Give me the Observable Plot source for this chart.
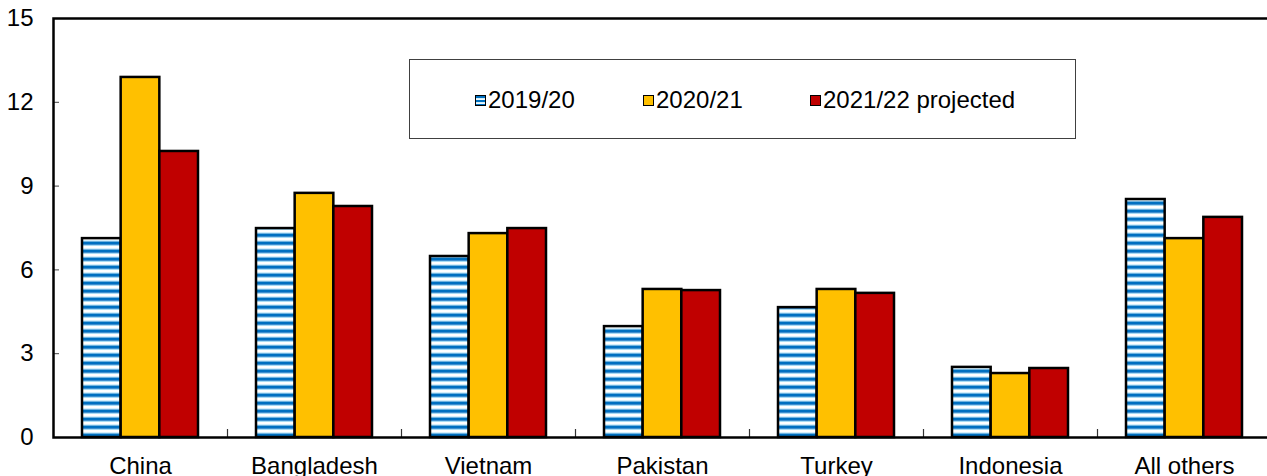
<!DOCTYPE html>
<html>
<head>
<meta charset="utf-8">
<script src="https://cdn.jsdelivr.net/npm/d3@7"></script>
<script src="https://cdn.jsdelivr.net/npm/@observablehq/plot@0.6"></script>
<style>
  html, body { margin: 0; padding: 0; background: #fff; }
  #wrap { position: relative; width: 1267px; height: 476px; font-family: "Liberation Sans", Arial, sans-serif; }
  #legend { position: absolute; left: 409px; top: 59px; width: 667px; height: 80px; box-sizing: border-box;
            border: 1px solid #404040; background: #fff; }
  .item { position: absolute; top: 26px; display: flex; align-items: center; font-size: 24px; color: #000; line-height: 28px; }
  .sw { width: 9px; height: 9px; border: 1.5px solid #000; margin-right: 2px; }
</style>
</head>
<body>
<div id="wrap"></div>
<script>
// ---- data ----
const categories = ["China", "Bangladesh", "Vietnam", "Pakistan", "Turkey", "Indonesia", "All others"];
const seriesNames = ["2019/20", "2020/21", "2021/22 projected"];
const values2019 = [7.12, 7.48, 6.48, 3.97, 4.65, 2.51, 8.52];
const values2020 = [12.89, 8.74, 7.30, 5.30, 5.30, 2.29, 7.12];
const values2021 = [10.24, 8.27, 7.48, 5.26, 5.16, 2.47, 7.88];
const yTicks = [0, 3, 6, 9, 12, 15];

// ---- layout / style ----
const W = 1267, H = 476;
const mL = 53, mR = -4, mT = 18, mB = 39;
const plotW = W - mL - mR;
const plotH = H - mT - mB;
const padInner = 1 / 3, padOuter = 1 / 6;
const step = plotW / (categories.length - padInner + 2 * padOuter);
const bw = step * (1 - padInner);
const fills = ["url(#stripes)", "#FFC000", "#C00000"];

const seriesValues = [values2019, values2020, values2021];
const tables = seriesValues.map((vals) => categories.map((c, i) => ({category: c, value: vals[i]})));

const barMarks = tables.map((t, i) =>
  Plot.barY(t, {
    x: "category", y: "value",
    fill: fills[i], stroke: "#000", strokeWidth: 2.5,
    insetLeft: i * bw / 3, insetRight: (2 - i) * bw / 3
  })
);

const svg = Plot.plot({
  width: W, height: H,
  marginLeft: mL, marginRight: mR, marginTop: mT, marginBottom: mB,
  style: {fontFamily: "'Liberation Sans', Arial, sans-serif", fontSize: "24px", color: "#000", background: "#fff"},
  x: {domain: categories, paddingInner: padInner, paddingOuter: padOuter, axis: null, label: null},
  y: {domain: [0, 15], axis: null, label: null},
  marks: [
    ...barMarks,
    // inward y ticks
    Plot.axisY({ticks: yTicks, tickSize: 6, dx: 6, tickFormat: () => "", label: null, stroke: "#444", strokeWidth: 1}),
    // y labels
    Plot.axisY({ticks: yTicks, tickSize: 0, tickPadding: 20, fontSize: 24, label: null, fill: "#000"}),
    // category separator ticks
    Plot.ruleX(categories.slice(1), {x: (d) => d, dx: -step / 2, insetTop: plotH - 8, stroke: "#333", strokeWidth: 1.2}),
    // category labels
    Plot.axisX({tickSize: 0, tickPadding: 19, fontSize: 24, label: null, fill: "#000"}),
    Plot.frame({stroke: "#000", strokeWidth: 2.5})
  ]
});

d3.select(svg).insert("defs", ":first-child").html(`
  <pattern id="stripes" patternUnits="userSpaceOnUse" width="8" height="8">
    <rect x="0" y="0" width="8" height="8" fill="#ffffff"/>
    <rect x="0" y="0" width="8" height="1" fill="#d4effb"/>
    <rect x="0" y="1" width="8" height="1" fill="#6fb3e0"/>
    <rect x="0" y="2" width="8" height="2" fill="#0070c0"/>
    <rect x="0" y="4" width="8" height="1" fill="#3f8fd0"/>
    <rect x="0" y="5" width="8" height="1" fill="#a9dcf3"/>
  </pattern>`);

const wrap = document.getElementById("wrap");
wrap.appendChild(svg);

// legend overlay
const legend = document.createElement("div");
legend.id = "legend";
const itemLeft = [65, 233, 400];
const swatchBg = [
  "repeating-linear-gradient(to bottom, #0070c0 0px, #0070c0 2px, #bfe6f8 2px, #ffffff 4px)",
  "#FFC000", "#C00000"
];
seriesNames.forEach((name, i) => {
  const it = document.createElement("div");
  it.className = "item";
  it.style.left = itemLeft[i] + "px";
  const sw = document.createElement("span");
  sw.className = "sw";
  sw.style.background = swatchBg[i];
  const tx = document.createElement("span");
  tx.textContent = name;
  it.appendChild(sw);
  it.appendChild(tx);
  legend.appendChild(it);
});
wrap.appendChild(legend);
</script>
</body>
</html>
